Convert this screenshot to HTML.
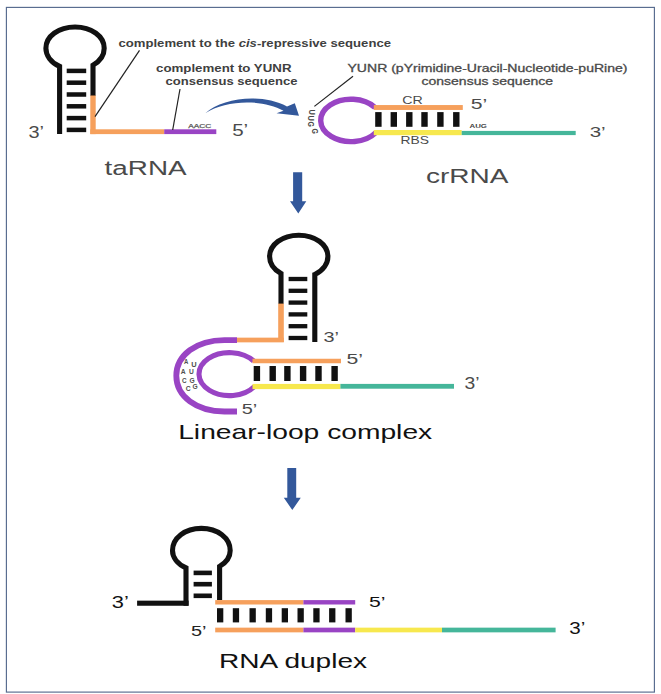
<!DOCTYPE html>
<html><head><meta charset="utf-8"><style>
html,body{margin:0;padding:0;background:#fff;}
svg{display:block;}
text{font-family:"Liberation Sans",sans-serif;}
</style></head><body>
<svg width="661" height="694" viewBox="0 0 661 694">
<rect x="0" y="0" width="661" height="694" fill="#fff"/>
<rect x="6.4" y="7.4" width="648" height="684.7" fill="none" stroke="#566a8e" stroke-width="1.15"/>
<path d="M59.6 134.1 L59.6 66.43 A29.15 21.5 0 0 1 45.90 48.20 C45.90 36.22 58.58 27.00 75.05 27.00 C91.52 27.00 104.20 36.22 104.20 48.20 A29.15 21.5 0 0 1 93.0 65.14 L93.0 96.0" fill="none" stroke="#111" stroke-width="5.1"/>
<rect x="90.30" y="95.50" width="5.40" height="38.60" fill="#f6a05c"/>
<rect x="90.30" y="129.30" width="73.90" height="4.80" fill="#f6a05c"/>
<rect x="164.20" y="129.30" width="52.10" height="4.80" fill="#9944c4"/>
<rect x="66.70" y="68.65" width="19.50" height="4.50" fill="#111"/>
<rect x="66.70" y="80.45" width="19.50" height="4.50" fill="#111"/>
<rect x="66.70" y="92.25" width="19.50" height="4.50" fill="#111"/>
<rect x="66.70" y="104.05" width="19.50" height="4.50" fill="#111"/>
<rect x="66.70" y="115.85" width="19.50" height="4.50" fill="#111"/>
<rect x="66.70" y="127.65" width="19.50" height="4.50" fill="#111"/>
<text x="28.50" y="137.80" font-size="16" fill="#4a4a4a" font-weight="normal" textLength="15.50" lengthAdjust="spacingAndGlyphs" >3’</text>
<text x="104.60" y="175.40" font-size="20" fill="#4a4a4a" font-weight="normal" textLength="82.00" lengthAdjust="spacingAndGlyphs" >taRNA</text>
<line x1="95" y1="116.7" x2="139.5" y2="50.4" stroke="#222" stroke-width="1.2"/>
<text x="118.50" y="46.50" font-size="10.7" fill="#404040" font-weight="bold" textLength="272.50" lengthAdjust="spacingAndGlyphs" >complement to the <tspan font-style='italic'>cis</tspan>-repressive sequence</text>
<text x="156.00" y="72.00" font-size="10.7" fill="#404040" font-weight="bold" textLength="135.50" lengthAdjust="spacingAndGlyphs" >complement to YUNR</text>
<text x="165.50" y="85.30" font-size="10.7" fill="#404040" font-weight="bold" textLength="132.00" lengthAdjust="spacingAndGlyphs" >consensus sequence</text>
<line x1="180" y1="89" x2="172.7" y2="130" stroke="#222" stroke-width="1.2"/>
<text x="188.20" y="127.80" font-size="5.2" fill="#606060" font-weight="normal" textLength="23.00" lengthAdjust="spacingAndGlyphs" stroke="#606060" stroke-width="0.25">AACC</text>
<text x="232.20" y="135.60" font-size="16" fill="#4a4a4a" font-weight="normal" textLength="16.00" lengthAdjust="spacingAndGlyphs" >5’</text>
<path d="M205.3 113.2 C222 98.5 260 92.5 287 106.5 L294.8 103.3 L299 115.8 L276.5 113.3 L283.5 110.8 C263 99 226 99.5 205.3 113.2 Z" fill="#33589b"/>
<path d="M375.04 107.5 A30.3 21.2 0 1 0 375.78 132.6" fill="none" stroke="#9944c4" stroke-width="5.4"/>
<rect x="373.80" y="105.05" width="89.00" height="4.90" fill="#f6a05c"/>
<rect x="373.80" y="130.00" width="87.90" height="5.20" fill="#f7e84e"/>
<rect x="461.70" y="130.90" width="114.00" height="4.20" fill="#45b69a"/>
<rect x="375.20" y="112.10" width="6.40" height="14.70" fill="#111"/>
<rect x="390.60" y="112.10" width="6.40" height="14.70" fill="#111"/>
<rect x="406.10" y="112.10" width="6.40" height="14.70" fill="#111"/>
<rect x="421.30" y="112.10" width="6.40" height="14.70" fill="#111"/>
<rect x="437.20" y="112.10" width="6.40" height="14.70" fill="#111"/>
<rect x="453.10" y="112.10" width="6.40" height="14.70" fill="#111"/>
<text x="402.30" y="103.80" font-size="10.2" fill="#4a4a4a" font-weight="normal" textLength="20.50" lengthAdjust="spacingAndGlyphs" >CR</text>
<text x="400.50" y="143.60" font-size="10.2" fill="#4a4a4a" font-weight="normal" textLength="28.50" lengthAdjust="spacingAndGlyphs" >RBS</text>
<text x="470.70" y="108.90" font-size="15" fill="#4a4a4a" font-weight="normal" textLength="16.50" lengthAdjust="spacingAndGlyphs" >5’</text>
<text x="469.50" y="128.40" font-size="5.8" fill="#444" font-weight="bold" textLength="17.50" lengthAdjust="spacingAndGlyphs" >AUG</text>
<text x="589.70" y="136.90" font-size="15" fill="#4a4a4a" font-weight="normal" textLength="16.00" lengthAdjust="spacingAndGlyphs" >3’</text>
<line x1="353" y1="76.2" x2="314.4" y2="106.4" stroke="#222" stroke-width="1.2"/>
<text x="347.50" y="71.80" font-size="10.7" fill="#4a4a4a" font-weight="normal" textLength="280.00" lengthAdjust="spacingAndGlyphs" stroke="#4a4a4a" stroke-width="0.3">YUNR (pYrimidine-Uracil-Nucleotide-puRine)</text>
<text x="421.50" y="84.80" font-size="10.7" fill="#4a4a4a" font-weight="normal" textLength="131.50" lengthAdjust="spacingAndGlyphs" stroke="#4a4a4a" stroke-width="0.3">consensus sequence</text>
<text x="426.00" y="182.70" font-size="21" fill="#4a4a4a" font-weight="normal" textLength="82.50" lengthAdjust="spacingAndGlyphs" >crRNA</text>
<text x="0" y="0" font-size="8.6" fill="#4a4a4a" font-weight="bold" textLength="5.4" lengthAdjust="spacingAndGlyphs" transform="translate(308.8,109.6) rotate(90)">U</text>
<text x="0" y="0" font-size="8.6" fill="#4a4a4a" font-weight="bold" textLength="5.4" lengthAdjust="spacingAndGlyphs" transform="translate(308.4,115.4) rotate(90)">U</text>
<text x="0" y="0" font-size="8.6" fill="#4a4a4a" font-weight="bold" textLength="5.4" lengthAdjust="spacingAndGlyphs" transform="translate(308.2,121.6) rotate(90)">G</text>
<text x="0" y="0" font-size="8.6" fill="#4a4a4a" font-weight="bold" textLength="5.4" lengthAdjust="spacingAndGlyphs" transform="translate(311.8,128.4) rotate(90)">G</text>
<path d="M293.1 172.3 L302.2 172.3 L302.2 201.3 L306.3 201.3 L298.3 213.5 L290 201.3 L293.1 201.3 Z" fill="#33589b"/>
<path d="M287.3 468 L296.2 468 L296.2 497.7 L300.8 497.7 L292.3 509.9 L283.8 497.7 L287.3 497.7 Z" fill="#33589b"/>
<path d="M281.0 304.0 L281.0 273.55 A29.15 21.5 0 0 1 269.60 256.50 C269.60 244.47 282.28 235.20 298.75 235.20 C315.22 235.20 327.90 244.47 327.90 256.50 A29.15 21.5 0 0 1 314.8 274.45 L314.8 342.0" fill="none" stroke="#111" stroke-width="5.1"/>
<rect x="278.20" y="303.60" width="5.60" height="38.40" fill="#f6a05c"/>
<rect x="236.90" y="337.65" width="46.90" height="4.70" fill="#f6a05c"/>
<rect x="288.60" y="276.85" width="18.70" height="4.30" fill="#111"/>
<rect x="288.60" y="288.65" width="18.70" height="4.30" fill="#111"/>
<rect x="288.60" y="300.45" width="18.70" height="4.30" fill="#111"/>
<rect x="288.60" y="312.25" width="18.70" height="4.30" fill="#111"/>
<rect x="288.60" y="324.05" width="18.70" height="4.30" fill="#111"/>
<rect x="288.60" y="335.85" width="18.70" height="4.30" fill="#111"/>
<text x="323.50" y="341.50" font-size="15.5" fill="#4a4a4a" font-weight="normal" textLength="15.50" lengthAdjust="spacingAndGlyphs" >3’</text>
<path d="M237 340.1 L224.4 340.1 C196.50 340.1 176.3 355.09 176.3 375.8 C176.3 396.51 196.50 411.5 224.4 411.5 L237 411.5" fill="none" stroke="#9944c4" stroke-width="5.8"/>
<path d="M253.68 361.0 A30.5 21.5 0 1 0 254.42 386.5" fill="none" stroke="#9944c4" stroke-width="5.1"/>
<rect x="252.50" y="358.75" width="88.50" height="4.50" fill="#f6a05c"/>
<rect x="252.50" y="383.90" width="87.90" height="5.20" fill="#f7e84e"/>
<rect x="340.40" y="383.90" width="113.60" height="4.80" fill="#45b69a"/>
<rect x="253.70" y="366.00" width="6.40" height="15.00" fill="#111"/>
<rect x="269.50" y="366.00" width="6.40" height="15.00" fill="#111"/>
<rect x="284.20" y="366.00" width="6.40" height="15.00" fill="#111"/>
<rect x="299.90" y="366.00" width="6.40" height="15.00" fill="#111"/>
<rect x="315.30" y="366.00" width="6.40" height="15.00" fill="#111"/>
<rect x="331.40" y="366.00" width="6.40" height="15.00" fill="#111"/>
<text x="346.40" y="363.70" font-size="15" fill="#4a4a4a" font-weight="normal" textLength="16.50" lengthAdjust="spacingAndGlyphs" >5’</text>
<text x="241.70" y="414.30" font-size="15" fill="#4a4a4a" font-weight="normal" textLength="15.50" lengthAdjust="spacingAndGlyphs" >5’</text>
<text x="464.50" y="389.00" font-size="16" fill="#4a4a4a" font-weight="normal" textLength="15.00" lengthAdjust="spacingAndGlyphs" >3’</text>
<text x="184.00" y="364.00" font-size="6.8" fill="#505050" font-weight="bold" textLength="4.30" lengthAdjust="spacingAndGlyphs" >A</text>
<text x="191.20" y="366.60" font-size="6.8" fill="#505050" font-weight="bold" textLength="5.40" lengthAdjust="spacingAndGlyphs" >U</text>
<text x="180.80" y="373.80" font-size="6.8" fill="#505050" font-weight="bold" textLength="4.90" lengthAdjust="spacingAndGlyphs" >A</text>
<text x="188.90" y="374.10" font-size="6.8" fill="#505050" font-weight="bold" textLength="4.80" lengthAdjust="spacingAndGlyphs" >U</text>
<text x="181.90" y="383.10" font-size="6.8" fill="#505050" font-weight="bold" textLength="4.60" lengthAdjust="spacingAndGlyphs" >C</text>
<text x="189.40" y="382.50" font-size="6.8" fill="#505050" font-weight="bold" textLength="5.20" lengthAdjust="spacingAndGlyphs" >G</text>
<text x="185.70" y="391.20" font-size="6.8" fill="#505050" font-weight="bold" textLength="4.90" lengthAdjust="spacingAndGlyphs" >C</text>
<text x="192.60" y="389.40" font-size="6.8" fill="#505050" font-weight="bold" textLength="5.20" lengthAdjust="spacingAndGlyphs" >G</text>
<text x="178.20" y="438.90" font-size="20.7" fill="#111" font-weight="normal" textLength="254.00" lengthAdjust="spacingAndGlyphs" >Linear-loop complex</text>
<path d="M186.0 605.8 L186.0 567.86 A28.85 20.5 0 0 1 172.50 550.50 C172.50 538.01 185.05 528.40 201.35 528.40 C217.65 528.40 230.20 538.01 230.20 550.50 A28.85 20.5 0 0 1 219.6 566.38 L219.6 600.0" fill="none" stroke="#111" stroke-width="5.1"/>
<rect x="137.10" y="600.65" width="51.50" height="5.10" fill="#111"/>
<rect x="193.60" y="570.60" width="18.30" height="4.60" fill="#111"/>
<rect x="193.60" y="581.90" width="18.30" height="4.60" fill="#111"/>
<rect x="193.60" y="593.50" width="18.30" height="4.60" fill="#111"/>
<rect x="215.20" y="600.10" width="88.20" height="4.40" fill="#f6a05c"/>
<rect x="303.40" y="600.10" width="51.80" height="4.40" fill="#9944c4"/>
<rect x="217.00" y="608.20" width="6.30" height="14.20" fill="#111"/>
<rect x="232.80" y="608.20" width="6.30" height="14.20" fill="#111"/>
<rect x="249.50" y="608.20" width="6.30" height="14.20" fill="#111"/>
<rect x="265.80" y="608.20" width="6.30" height="14.20" fill="#111"/>
<rect x="281.70" y="608.20" width="6.30" height="14.20" fill="#111"/>
<rect x="297.50" y="608.20" width="6.30" height="14.20" fill="#111"/>
<rect x="313.30" y="608.20" width="6.30" height="14.20" fill="#111"/>
<rect x="329.10" y="608.20" width="6.30" height="14.20" fill="#111"/>
<rect x="345.50" y="608.20" width="6.30" height="14.20" fill="#111"/>
<rect x="215.20" y="627.65" width="88.20" height="4.70" fill="#f6a05c"/>
<rect x="303.40" y="627.65" width="51.80" height="4.70" fill="#9944c4"/>
<rect x="355.20" y="627.65" width="86.80" height="4.70" fill="#f7e84e"/>
<rect x="442.00" y="627.65" width="113.60" height="4.70" fill="#45b69a"/>
<text x="111.80" y="607.90" font-size="16.5" fill="#111" font-weight="normal" textLength="17.00" lengthAdjust="spacingAndGlyphs" >3’</text>
<text x="191.00" y="636.10" font-size="15" fill="#222" font-weight="normal" textLength="15.50" lengthAdjust="spacingAndGlyphs" >5’</text>
<text x="369.00" y="606.60" font-size="15" fill="#111" font-weight="normal" textLength="16.50" lengthAdjust="spacingAndGlyphs" >5’</text>
<text x="569.30" y="634.00" font-size="16" fill="#111" font-weight="normal" textLength="16.00" lengthAdjust="spacingAndGlyphs" >3’</text>
<text x="219.00" y="667.50" font-size="19.5" fill="#111" font-weight="normal" textLength="148.00" lengthAdjust="spacingAndGlyphs" >RNA duplex</text>
</svg>
</body></html>
